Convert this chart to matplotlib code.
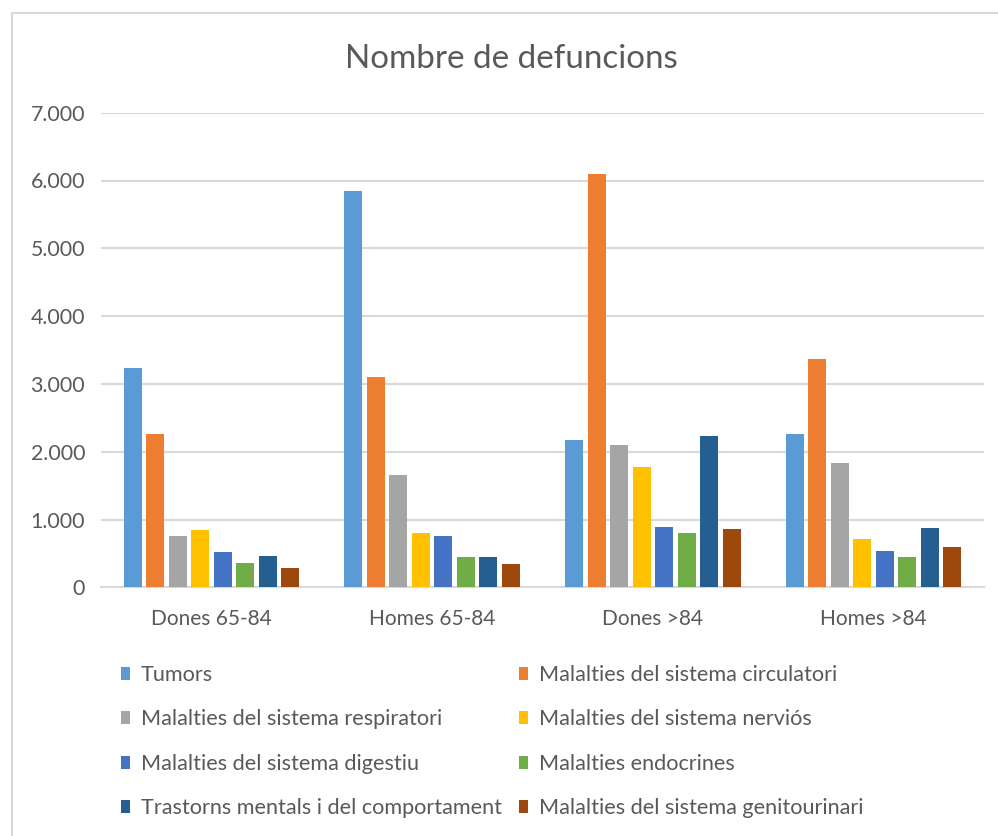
import matplotlib
matplotlib.use("Agg")
import matplotlib.pyplot as plt
import numpy as np
from matplotlib.patches import Rectangle, Patch
from matplotlib.ticker import FuncFormatter

categories = ["Dones 65-84", "Homes 65-84", "Dones >84", "Homes >84"]
series_names = [
    "Tumors",
    "Malalties del sistema circulatori",
    "Malalties del sistema respiratori",
    "Malalties del sistema nerviós",
    "Malalties del sistema digestiu",
    "Malalties endocrines",
    "Trastorns mentals i del comportament",
    "Malalties del sistema genitourinari",
]
tumors = [3230, 5840, 2170, 2265]
circulatori = [2265, 3100, 6090, 3370]
respiratori = [760, 1655, 2095, 1830]
nervios = [840, 800, 1770, 710]
digestiu = [515, 760, 895, 535]
endocrines = [365, 440, 800, 440]
mentals = [460, 440, 2225, 880]
genitourinari = [290, 345, 855, 590]
values = [tumors, circulatori, respiratori, nervios, digestiu, endocrines, mentals, genitourinari]
colors = ["#5B9BD5", "#ED7D31", "#A5A5A5", "#FFC000", "#4472C4", "#70AD47", "#255E91", "#9E480E"]

FONT = "Lato"
TXT = "#595959"

W, H = 998, 836
fig = plt.figure(figsize=(W / 100, H / 100), dpi=100)
fig.patch.set_facecolor("white")

# chart border
fig.patches.append(Rectangle((12 / W, -0.01), 1.0, 1 - 13 / H + 0.01, transform=fig.transFigure,
                             fill=False, edgecolor="#D9D9D9", linewidth=1.5))

ax = fig.add_axes([101 / W, 1 - 587.3 / H, (984 - 101) / W, (587.3 - 112.7) / H])
ax.set_facecolor("white")

n = len(values)
x = np.arange(len(categories))
slot = 0.102
bw = 0.082
for i, (vals, col, name) in enumerate(zip(values, colors, series_names)):
    offs = (i - (n - 1) / 2) * slot
    ax.bar(x + offs, vals, width=bw, color=col, label=name, zorder=3)

ax.set_xlim(-0.5, len(categories) - 0.5)
ax.set_ylim(0, 7000)
ax.set_yticks(np.arange(0, 7001, 1000))
ax.yaxis.set_major_formatter(FuncFormatter(lambda v, p: f"{int(v):,}".replace(",", ".")))
ax.set_xticks(x)
ax.set_xticklabels(categories)
ax.grid(axis="y", color="#D9D9D9", linewidth=1.5, zorder=0)
for s in ["top", "right", "left"]:
    ax.spines[s].set_visible(False)
ax.spines["bottom"].set_color("#D9D9D9")
ax.spines["bottom"].set_linewidth(1.5)
ax.tick_params(axis="both", length=0, labelcolor=TXT)
ax.tick_params(axis="y", pad=11.5, labelsize=15.4)
ax.tick_params(axis="x", pad=15.5, labelsize=15)
for lab in ax.get_xticklabels() + ax.get_yticklabels():
    lab.set_fontfamily(FONT)

fig.text(511 / W, 1 - 59 / H, "Nombre de defuncions", ha="center", va="center",
         fontsize=23.9, color=TXT, fontfamily=FONT)

# legend filled row-wise: reorder for matplotlib's column-major fill
order = [0, 2, 4, 6, 1, 3, 5, 7]
handles = [Patch(facecolor=colors[i], edgecolor="none") for i in order]
labels = [series_names[i] for i in order]
leg = fig.legend(handles, labels, ncol=2, loc="upper left",
                 bbox_to_anchor=(110 / W, 1 - 654 / H), frameon=False,
                 prop={"family": FONT, "size": 15.6}, labelcolor=TXT,
                 handlelength=0.42, handleheight=0.55, handletextpad=0.5,
                 columnspacing=0.8, labelspacing=1.13, borderpad=0.0)

fig.savefig("out.png", dpi=100, facecolor="white")
